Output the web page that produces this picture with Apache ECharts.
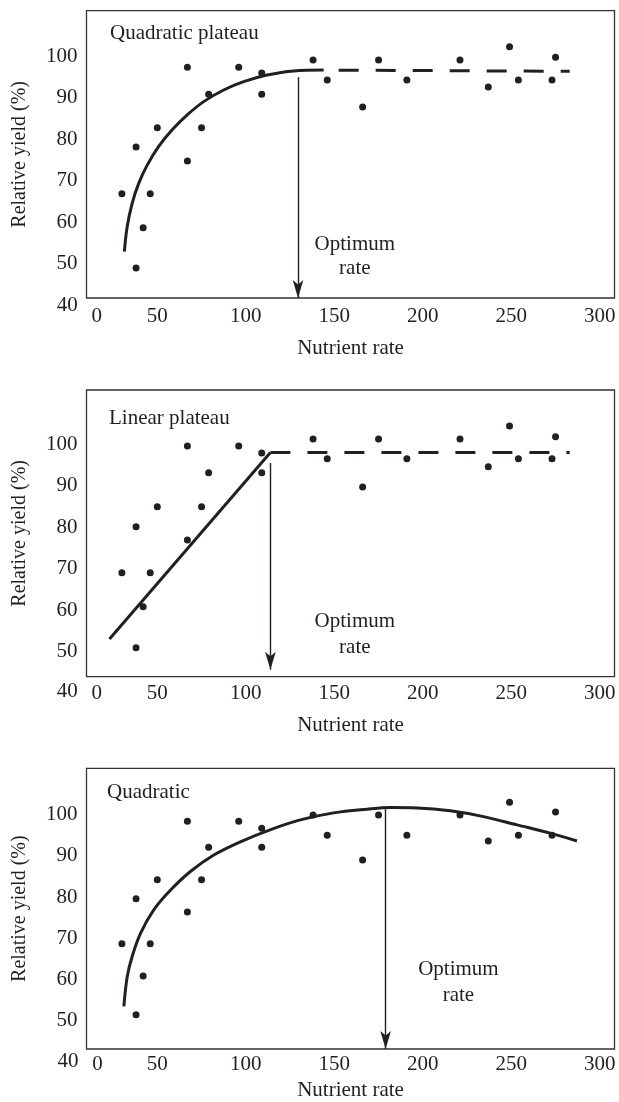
<!DOCTYPE html>
<html>
<head>
<meta charset="utf-8">
<title>Relative yield vs nutrient rate</title>
<script src="https://cdn.jsdelivr.net/npm/echarts@6/dist/echarts.min.js"></script>
<style>
  html, body { margin: 0; padding: 0; background: #fff; }
  #chart { width: 619px; height: 1102px; }
</style>
</head>
<body>
<div id="chart"></div>
<script>
// observed points (same rates in every panel, yields read per panel)
const rates = [30, 38, 38, 42, 46, 50, 67, 67, 75, 79, 96, 109, 109, 138, 146, 166, 175, 191, 221, 237, 249, 254, 273, 275];
const yieldQuadPlateau = [66.9, 78.2, 49.0, 58.7, 66.9, 82.8, 97.4, 74.8, 82.8, 90.9, 97.4, 96.0, 90.9, 99.1, 94.3, 87.8, 99.1, 94.3, 99.1, 92.6, 102.3, 94.3, 94.3, 99.8];
const yieldLinPlateau = [69.0, 80.1, 50.9, 60.8, 69.0, 84.9, 99.6, 76.9, 84.9, 93.1, 99.6, 97.9, 93.1, 101.3, 96.5, 89.7, 101.3, 96.5, 101.3, 94.6, 104.4, 96.5, 96.5, 101.8];
const yieldQuad = [68.7, 79.6, 51.5, 60.9, 68.7, 84.2, 98.4, 76.4, 84.2, 92.1, 98.4, 96.7, 92.1, 99.9, 95.0, 89.0, 99.9, 95.0, 99.9, 93.6, 103.0, 95.0, 95.0, 100.6];

// fitted responses, [rate, yield]
const curveQuadPlateau = [[31.4, 53.0], [33.0, 59.0], [35.8, 64.6], [39.5, 69.4], [44.3, 73.8], [50.8, 78.3], [58.4, 82.3], [66.9, 85.9], [76.2, 89.1], [87.5, 91.9], [98.8, 93.9], [112.0, 95.5], [127.1, 96.5], [144.0, 96.7]];
const plateauQuadPlateau = [[144.0, 96.7], [283.0, 96.4]];
const lineLinPlateau = [[23.0, 53.0], [113.9, 98.0]];
const plateauLinPlateau = [[113.9, 98.0], [283.0, 98.0]];
const curveQuad = [[31.1, 53.5], [33.0, 60.7], [35.8, 65.6], [40.5, 71.2], [48.0, 76.9], [57.5, 81.7], [68.7, 86.2], [81.9, 90.2], [96.9, 93.4], [113.7, 96.3], [130.8, 98.7], [149.6, 100.4], [168.5, 101.3], [181.7, 101.7], [196.7, 101.6], [215.5, 100.9], [234.3, 99.5], [253.2, 97.5], [272.0, 95.5], [287.1, 93.6]];

// optimum rate arrows
const optimumRates = [129.5, 113.9, 179];
const arrowTops = [95.0, 95.5, 101.3];
const arrowBottoms = [41.8, 45.6, 43.2];

const panelTitles = ['Quadratic plateau', 'Linear plateau', 'Quadratic'];
const xTicks = [50, 100, 150, 200, 250, 300];
const yTicks = [50, 60, 70, 80, 90, 100];
const xCornerLabel = '0';
const yCornerLabel = '40';

const FONT = "'Liberation Serif', 'DejaVu Serif', serif";
const INK = '#231f20';

// layout of each panel
const panels = [
  { top: 10.7, height: 287.3, yMin: 41.8, yMax: 111.0, titleLeft: 110, titleTop: 23,
    labelMargin: 8, nameGap: 40, opt: [161.6, 51.7], optLh: 24, zeroOff: [10.3, 18.5], fortyOff: [-8.7, 7],
    yields: yieldQuadPlateau, fit: curveQuadPlateau, plateau: plateauQuadPlateau, dashOffset: 22 },
  { top: 390, height: 286.7, yMin: 43.9, yMax: 113.1, titleLeft: 109, titleTop: 408,
    labelMargin: 6, nameGap: 38, opt: [161.6, 54.0], optLh: 26, zeroOff: [10.3, 16.3], fortyOff: [-8.7, 15],
    yields: yieldLinPlateau, fit: lineLinPlateau, plateau: plateauLinPlateau, dashOffset: 0 },
  { top: 768.3, height: 280.7, yMin: 43.2, yMax: 111.2, titleLeft: 107, titleTop: 782,
    labelMargin: 4.5, nameGap: 31, opt: [220.1, 59.2], optLh: 26, zeroOff: [11, 15], fortyOff: [-8, 12.7],
    yields: yieldQuad, fit: curveQuad, plateau: null, dashOffset: 0 }
];
const X_MIN = 10, X_MAX = 308.3;

const chart = echarts.init(document.getElementById('chart'), null, { renderer: 'canvas' });

const textStyle = { fontFamily: FONT, fontSize: 21, color: INK };

const series = [];
panels.forEach((p, i) => {
  series.push({
    type: 'scatter',
    xAxisIndex: i, yAxisIndex: i,
    symbolSize: 7,
    itemStyle: { color: INK, opacity: 1 },
    data: rates.map((r, k) => [r, p.yields[k]]),
    markLine: {
      silent: true,
      symbol: ['none', 'arrow'],
      symbolSize: [8, 18],
      lineStyle: { color: INK, width: 1.4, type: 'solid' },
      label: { show: false },
      data: [[{ coord: [optimumRates[i], arrowTops[i]] }, { coord: [optimumRates[i], arrowBottoms[i]] }]]
    },
    markPoint: {
      silent: true,
      symbol: 'circle',
      symbolSize: 1,
      itemStyle: { color: 'rgba(0,0,0,0)' },
      label: {
        show: true, position: 'inside', formatter: 'Optimum\nrate',
        fontFamily: FONT, fontSize: 21, color: INK, lineHeight: p.optLh, align: 'center'
      },
      data: [{ coord: p.opt }]
    }
  });
  series.push({
    type: 'line',
    xAxisIndex: i, yAxisIndex: i,
    data: p.fit,
    smooth: p.fit.length > 2 ? 0.35 : false,
    showSymbol: false,
    lineStyle: { color: INK, width: 3 }
  });
  if (p.plateau) {
    series.push({
      type: 'line',
      xAxisIndex: i, yAxisIndex: i,
      data: p.plateau,
      showSymbol: false,
      lineStyle: { color: INK, width: 3, type: [20, 17], dashOffset: p.dashOffset }
    });
  }
});

chart.setOption({
  animation: false,
  backgroundColor: '#fff',
  title: panels.map((p, i) => ({
    text: panelTitles[i],
    left: p.titleLeft,
    top: p.titleTop,
    padding: 0,
    textStyle: { fontFamily: FONT, fontSize: 21, fontWeight: 'normal', color: INK }
  })),
  grid: panels.map(p => ({
    left: 86.5, width: 528, top: p.top, height: p.height,
    show: true, borderColor: '#333', borderWidth: 1.3, backgroundColor: 'transparent'
  })),
  xAxis: panels.map((p, i) => ({
    type: 'value', gridIndex: i, min: X_MIN, max: X_MAX,
    name: 'Nutrient rate', nameLocation: 'middle', nameGap: p.nameGap,
    nameTextStyle: textStyle,
    axisLine: { show: false }, axisTick: { show: false }, splitLine: { show: false },
    axisLabel: { customValues: xTicks, margin: p.labelMargin, fontFamily: FONT, fontSize: 21, color: INK }
  })),
  yAxis: panels.map((p, i) => ({
    type: 'value', gridIndex: i, min: p.yMin, max: p.yMax,
    name: 'Relative yield (%)', nameLocation: 'middle', nameGap: 57,
    nameTextStyle: { fontFamily: FONT, fontSize: 20, color: INK },
    axisLine: { show: false }, axisTick: { show: false }, splitLine: { show: false },
    axisLabel: { customValues: yTicks, margin: 9, fontFamily: FONT, fontSize: 21, color: INK }
  })),
  series
});

// corner labels "0" and "40" sit off the linear scale at the box corner
function placeCornerLabels() {
  const elements = [];
  panels.forEach((p, i) => {
    const corner = chart.convertToPixel({ gridIndex: i }, [X_MIN, p.yMin]);
    elements.push({
      type: 'text', x: corner[0] + p.zeroOff[0], y: corner[1] + p.zeroOff[1],
      style: { text: xCornerLabel, font: '21px ' + FONT, fill: INK,
        align: 'center', textAlign: 'center', verticalAlign: 'middle', textVerticalAlign: 'middle' }
    });
    elements.push({
      type: 'text', x: corner[0] + p.fortyOff[0], y: corner[1] + p.fortyOff[1],
      style: { text: yCornerLabel, font: '21px ' + FONT, fill: INK,
        align: 'right', textAlign: 'right', verticalAlign: 'middle', textVerticalAlign: 'middle' }
    });
  });
  chart.setOption({ graphic: elements });
}
placeCornerLabels();

window.addEventListener('resize', () => {
  chart.resize();
  placeCornerLabels();
});
</script>
</body>
</html>
